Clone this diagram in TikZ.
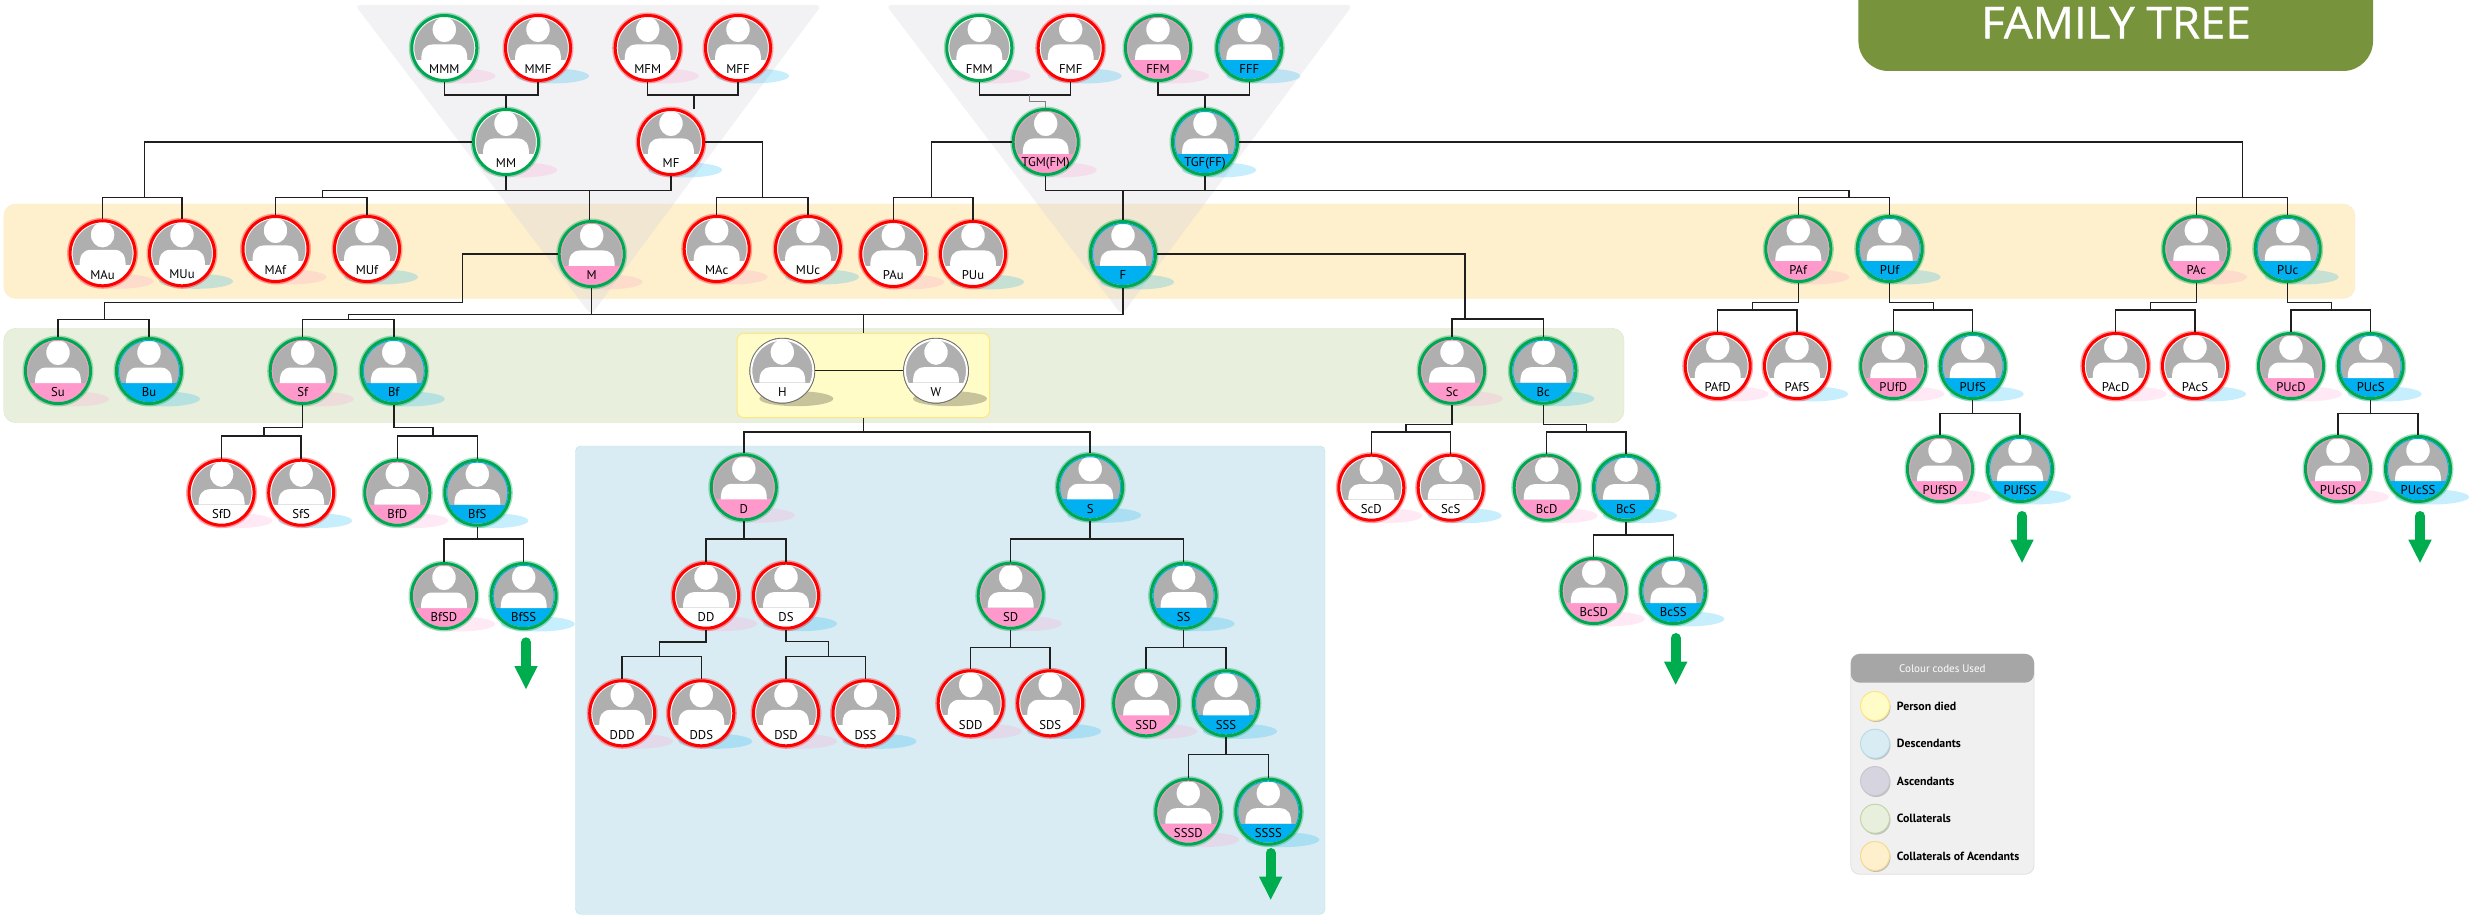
\documentclass[tikz,border=0pt]{standalone}
\usepackage{fontspec}
\setmainfont{PT Sans}
\newfontfamily\titlefont[FakeBold=0.8,FakeStretch=1.04]{Open Sans}
\usetikzlibrary{calc}

\definecolor{ringgreen}{HTML}{00A650}
\definecolor{ringred}{HTML}{FF0000}
\definecolor{avgrey}{HTML}{AFAFAF}
\definecolor{bandpink}{HTML}{FF99CC}
\definecolor{bandblue}{HTML}{00B0F0}
\definecolor{titlegreen}{HTML}{77933C}
\definecolor{bgorange}{HTML}{FEF0CD}
\definecolor{bggreen}{HTML}{E9EFDD}
\definecolor{bgblue}{HTML}{DAECF3}
\definecolor{bgyellow}{HTML}{FFFCC8}
\definecolor{bgasc}{HTML}{D6D4DE}
\definecolor{rimorange}{HTML}{F8D98E}
\definecolor{rimgreen}{HTML}{C4D6A8}
\definecolor{rimblue}{HTML}{B5DDE8}
\definecolor{rimyellow}{HTML}{FFE680}
\definecolor{rimasc}{HTML}{C8C6D0}
\definecolor{arrowgreen}{HTML}{00AD4E}

\tikzset{
  link/.style={draw=black!88, line width=0.06cm},
  ring/.style={circle, inner sep=0pt, minimum size=2.6cm},
  namelabel/.style={font=\fontsize{14.5}{16}\selectfont, inner sep=0pt, text=black},
  legendtext/.style={font=\bfseries\fontsize{13.5}{15}\selectfont, inner sep=0pt, anchor=west},
  legendcircle/.style={circle, inner sep=0pt, minimum size=1.16cm, line width=0.04cm},
  femshadow/.style={fill=bandpink, opacity=.22},
  malshadow/.style={fill=bandblue, opacity=.22},
  darkshadow/.style={fill=black, opacity=.22},
}

\def\ringwd{0.12cm}
\def\glowwd{0.24cm}

% name, text, x, y, ring colour, band colour, shadow style
\newcommand{\person}[7]{
  \fill[#7] ($(#3,#4)+(14,28)$) ellipse (37 and 7.5);
  \draw[#5, opacity=.35, line width=\glowwd] (#3,#4) circle (32.5);
  \begin{scope}[shift={(#3,#4)}]
    \fill[white] (0,0) circle (32);
    \begin{scope}
      \clip (0,0) circle (30.5);
      \fill[avgrey] (-31,-31) rectangle (31,12);
      \fill[#6] (-31,12) rectangle (31,31);
      \fill[white] (-23,12) .. controls (-23,2) and (-20,-3) .. (-12,-3.5) -- (12,-3.5) .. controls (20,-3) and (23,2) .. (23,12) -- cycle;
      \filldraw[fill=white, draw=avgrey, line width=0.06cm] (0,-18.5) ellipse (12.5 and 13.5);
    \end{scope}
    \draw[#6, line width=0.04cm] (0,0) circle (30.5);
  \end{scope}
  \node (#1) [ring, draw=#5, line width=\ringwd] at (#3,#4) {};
  \node (#1-t) [namelabel] at ($(#3,#4)+(0,21.3)$) {#2};
}

\begin{document}
\begin{tikzpicture}[x=0.04cm, y=-0.04cm]
\useasboundingbox (0,0) rectangle (2471,917);

%backgrounds
\fill[bgorange, draw=rimorange!50, rounded corners=0.48cm] (3.8,204) rectangle (2355,298.5);
\fill[bggreen, draw=rimgreen!70, rounded corners=0.48cm] (3.8,328.3) rectangle (1624,422.7);
\fill[bgblue, draw=rimblue, rounded corners=0.2cm] (575.5,446) rectangle (1325,914.3);
\node (couple) [rectangle, fill=bgyellow, draw=rimyellow, line width=0.04cm, rounded corners=0.28cm, minimum width=10.1cm, minimum height=3.37cm] at (863.3,375.5) {};

\fill[bgasc, opacity=.32, rounded corners=0.2cm] (355,5) -- (821.7,5) -- (591,315) -- cycle;
\fill[bgasc, opacity=.32, rounded corners=0.2cm] (886,5) -- (1352.7,5) -- (1121.7,315) -- cycle;

%title
\fill[titlegreen] (1858.4,0) {[rounded corners=1.2cm] -- (1858.4,71) -- (2373,71)} -- (2373,0) -- cycle;
\node (title) [text=white, inner sep=0pt, font=\titlefont\fontsize{50}{52}\selectfont] at (2116,22.6) {FAMILY TREE};

%people
\foreach \nm/\cx/\cy in {MMM/444.3/48, MM/506/142, FMM/979.3/48}
  {\person{\nm}{\nm}{\cx}{\cy}{ringgreen}{white}{femshadow}}
\foreach \nm/\cx/\cy in {MFM/647.7/48, MAu/102.6/253.3, MAf/275.5/249, MAc/716.7/249, PAu/893.3/254,
  SfD/221.6/492.7, DD/706/595.7, DDD/622.2/713.3, DSD/786/713.3, SDD/970.7/703.3, ScD/1371.3/487.7,
  PAfD/1717.7/366, PAcD/2115.7/366}
  {\person{\nm}{\nm}{\cx}{\cy}{ringred}{white}{femshadow}}
\foreach \nm/\cx/\cy in {MMF/538/48, MFF/738/48, MF/671/142, FMF/1070.7/48, MUu/182/253.3, MUf/367/249,
  MUc/808/249, PUu/973/254, SfS/301.2/492.7, DS/786/595.7, DDS/701.3/713.3, DSS/865.5/713.3,
  SDS/1050.2/703.3, ScS/1450.7/487.7, PAfS/1797/366, PAcS/2195/366}
  {\person{\nm}{\nm}{\cx}{\cy}{ringred}{white}{malshadow}}
\foreach \nm/\cx/\cy in {M/591.7/254, FFM/1158/48, Su/58/371, Sf/302.7/371, Sc/1452/370.7, PAf/1798.3/249,
  PAc/2196.3/249, D/743.8/487.3, SD/1010.7/595.7, SSD/1146.2/703.3, SSSD/1188.3/811.7, BfD/397.3/492.7,
  BfSD/444/596, BcD/1546.7/487.7, BcSD/1593.7/591, PUfD/1893.3/366, PUfSD/1940/469, PUcD/2291/366,
  PUcSD/2338/469}
  {\person{\nm}{\nm}{\cx}{\cy}{ringgreen}{bandpink}{femshadow}}
\foreach \nm/\cx/\cy in {FFF/1249.3/48, F/1123/254, Bu/149/371, Bf/393.8/371, Bc/1543.3/370.7, PUf/1889.7/249,
  PUc/2287.7/249, S/1090.2/487.3, SS/1183.6/595.7, SSS/1226/703.3, SSSS/1268.3/811.7, BfS/477.3/492.7,
  BfSS/523.7/596, BcS/1626/487.7, BcSS/1673.3/591, PUfS/1972.7/366, PUfSS/2020/469, PUcS/2370.7/366,
  PUcSS/2418/469}
  {\person{\nm}{\nm}{\cx}{\cy}{ringgreen}{bandblue}{malshadow}}
\person{TGM}{TGM(FM)}{1045.7}{142}{ringgreen}{bandpink}{femshadow}
\person{TGF}{TGF(FF)}{1205}{142}{ringgreen}{bandblue}{malshadow}
\begin{scope}
  \def\ringwd{0.035cm}
  \def\glowwd{0cm}
  \person{H}{H}{782.3}{370.7}{black!55}{white}{darkshadow}
  \person{W}{W}{936}{370.7}{black!55}{white}{darkshadow}
\end{scope}

%top row hangs above its line
\foreach \jn/\jx/\jy/\ka/\kb in {jMM/506/95/MMM/MMF, jMF/694/95/MFM/MFF, jTG/1029/95/FMM/FMF, jTF/1205/95/FFM/FFF}
  {\coordinate (\jn) at (\jx,\jy);
   \draw[link] (\ka.south) |- (\jn) -| (\kb.south);}

%brothers and sisters
\foreach \jn/\jx/\jy/\ka/\kb in {jMAu/144.7/197.7/MAu/MUu, jMAf/322.6/197.7/MAf/MUf, jMAc/762.7/197.7/MAc/MUc, jPAu/931.3/197.7/PAu/PUu,
  jPAf/1848.8/197.7/PAf/PUf, jPAc/2242.3/197.7/PAc/PUc, jSu/104.5/319.3/Su/Bu, jSf/348.3/319.3/Sf/Bf,
  jSc/1465/319/Sc/Bc, jSfD/264/436/SfD/SfS, jBfD/432.8/436/BfD/BfS, jBfS/477.3/539/BfSD/BfSS,
  jD/863.3/432/D/S, jDD/743.8/539/DD/DS, jSD/1090.2/539/SD/SS, jDDD/659.6/656.7/DDD/DDS,
  jDSD/828.4/656.7/DSD/DSS, jSDD/1010.7/647.3/SDD/SDS, jSSD/1183.6/647.3/SSD/SSS, jSSS/1226/754.7/SSSD/SSSS,
  jScD/1406/432/ScD/ScS, jBcD/1586.7/432/BcD/BcS, jBcS/1626/535/BcSD/BcSS, jPAfD/1752.7/310/PAfD/PAfS,
  jPUfD/1933.3/310/PUfD/PUfS, jPUfS/1972.7/413.3/PUfSD/PUfSS, jPAcD/2150.7/310/PAcD/PAcS,
  jPUcD/2331.3/310/PUcD/PUcS, jPUcS/2370.7/413.3/PUcSD/PUcSS}
  {\coordinate (\jn) at (\jx,\jy);
   \draw[link] (\ka.north) |- (\jn) -| (\kb.north);}

%parents down to the sibling line
\foreach \pa/\jn in {BfS/jBfS, D/jDD, S/jSD, SD/jSDD, SS/jSSD, SSS/jSSS, BcS/jBcS, PUfS/jPUfS, PUcS/jPUcS}
  {\draw[link] (\pa.south) -- (\jn);}
\foreach \pa/\jn/\st in {Sf/jSfD/8.7, Bf/jBfD/8.7, Sc/jScD/7.7, Bc/jBcD/7.7, DD/jDDD/14.7, DS/jDSD/15.4,
  PAf/jPAfD/7.3, PUf/jPUfD/7.3, PAc/jPAcD/7.3, PUc/jPUcD/7.3}
  {\draw[link] (\jn) -- ++(0,-\st) -| (\pa.south);}

\coordinate (eMF) at (694,109);
\coordinate (jM) at (589.3,190.7);
\coordinate (jF) at (1123,190.7);
\coordinate (jHW) at (863.3,314.3);
\coordinate (bSu) at (462.7,302.7);

\draw[link] (jMM) -- (MM.north);
\draw[link] (jMF) -- (eMF);
\draw[link] (jTF) -- (TGF.north);
\draw[black!50, line width=0.03cm] (jTG) -- ++(0,6.7) -| (TGM.north);

\draw[link] (MM.west) -| (jMAu);
\draw[link] (MF.east) -| (jMAc);
\draw[link] (TGM.west) -| (jPAu);
\draw[link] (TGF.east) -| (jPAc);

\draw[link] (jMAf) -- ++(0,-7) -| (MF.south);
\draw[link] (MM.south) -- (MM.south |- jM);
\draw[link] (jM) -- (jM |- M.north);
\draw[link] (jPAf) -- ++(0,-7) -| (TGM.south);
\draw[link] (TGF.south) -- (TGF.south |- jF);
\draw[link] (jF) -- (F.north);

\draw[link] (M.west) -| (bSu) -- (jSu |- bSu) -- (jSu);
\draw[link] (jSf) -- ++(0,-5) -| (M.south);
\draw[link] (M.south |- jHW) -| (F.south);
\draw[link] (jHW) -- (couple.north);
\draw[link] (H) -- (W);
\draw[link] (couple.south) -- (jD);
\draw[link] (F.east) -| (jSc);

%more to come
\foreach \ax/\ay in {526/637.3, 1270.7/848, 1675.7/633, 2022/511, 2420/511}
  {\draw[arrowgreen, line width=0.4cm, line cap=round] (\ax,\ay+5) -- (\ax,\ay+29);
   \fill[arrowgreen] (\ax-11.7,\ay+28.7) -- (\ax+11.7,\ay+28.7) -- (\ax,\ay+51.7) -- cycle;}

%colour codes
\node (legend) [rectangle, fill=black!6, draw=black!12, line width=0.03cm, rounded corners=0.36cm, minimum width=7.33cm, minimum height=8.81cm] at (1942.4,764.2) {};
\node (legendhead) [rectangle, fill=black!35, rounded corners=0.36cm, minimum width=7.33cm, minimum height=1.15cm, text=white, inner sep=0pt, font=\fontsize{12.5}{14}\selectfont] at (1942.4,668.3) {Colour codes Used};
\foreach \ly/\lfill/\lrim/\ltext in {706/bgyellow/rimyellow/Person died, 743.7/bgblue/rimblue/Descendants,
  781/bgasc/rimasc/Ascendants, 818.7/bggreen/rimgreen/Collaterals, 856/bgorange/rimorange/Collaterals of Acendants}
  {\fill[black!25] (1876,\ly+1.5) circle (14.5);
   \node (lg\ly) [legendcircle, fill=\lfill, draw=\lrim] at (1875,\ly) {};
   \node (lgt\ly) [legendtext] at (1896.7,\ly) {\ltext};}
\end{tikzpicture}
\end{document}
